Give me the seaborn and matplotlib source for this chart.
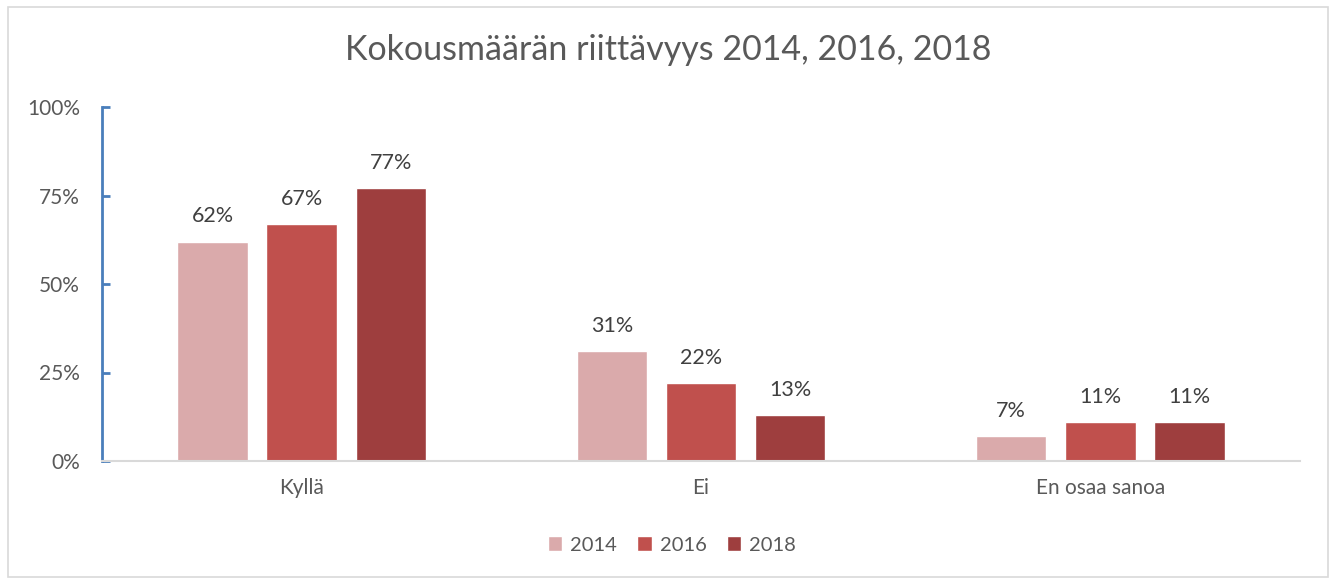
import pandas as pd
import matplotlib.pyplot as plt
import seaborn as sns
from matplotlib.patches import Rectangle

categories = ["Kyllä", "Ei", "En osaa sanoa"]
years = ["2014", "2016", "2018"]
values_2014 = [62, 31, 7]
values_2016 = [67, 22, 11]
values_2018 = [77, 13, 11]
y_ticks = [0, 25, 50, 75, 100]

colors = ["#DAAAAB", "#C0504D", "#9E3E3E"]
text_grey = "#595959"

df = pd.DataFrame({
    "category": categories * 3,
    "year": [y for y in years for _ in categories],
    "value": values_2014 + values_2016 + values_2018,
})

sns.set_style("white")
plt.rcParams["font.family"] = ["Lato", "DejaVu Sans"]

fig = plt.figure(figsize=(13.36, 5.8), dpi=100)
fig.patches.append(Rectangle((0.006, 0.006), 0.988, 0.982, transform=fig.transFigure,
                             fill=False, edgecolor="#D9D9D9", linewidth=1.2))
ax = fig.add_axes([102 / 1336, 1 - 461 / 580, 1198 / 1336, 354 / 580])

sns.barplot(data=df, x="category", y="value", hue="year", palette=colors,
            saturation=1, width=0.67, gap=0.21, ax=ax, legend=True)

for container in ax.containers:
    ax.bar_label(container, labels=[f"{v:.0f}%" for v in container.datavalues],
                 padding=11, fontsize=15.5, color="#404040")

ax.set_ylim(0, 100)
ax.set_xlim(-0.5, 2.5)
ax.set_yticks(y_ticks)
ax.set_yticklabels([f"{t}%" for t in y_ticks], fontsize=15, color=text_grey)
ax.tick_params(axis="x", labelsize=15, labelcolor=text_grey, length=0, pad=12)
ax.tick_params(axis="y", direction="in", length=6, width=2, color="#4A7EBB",
               left=True, pad=16)
ax.set_xlabel("")
ax.set_ylabel("")

for s in ["top", "right"]:
    ax.spines[s].set_visible(False)
ax.spines["left"].set_color("#4A7EBB")
ax.spines["left"].set_linewidth(2)
ax.spines["bottom"].set_color("#D9D9D9")
ax.spines["bottom"].set_linewidth(1.5)

fig.text(0.5, 1 - 50 / 580, "Kokousmäärän riittävyys 2014, 2016, 2018",
         ha="center", va="center", fontsize=24.5, color=text_grey)

handles, labels = ax.get_legend_handles_labels()
ax.get_legend().remove()
fig.legend(handles, labels, loc="center", bbox_to_anchor=(0.503, 1 - 545 / 580),
           ncol=3, frameon=False, fontsize=14.5, handlelength=0.7, handleheight=0.7,
           handletextpad=0.4, columnspacing=1.0, labelcolor=text_grey)

fig.savefig("out.png", dpi=100)
